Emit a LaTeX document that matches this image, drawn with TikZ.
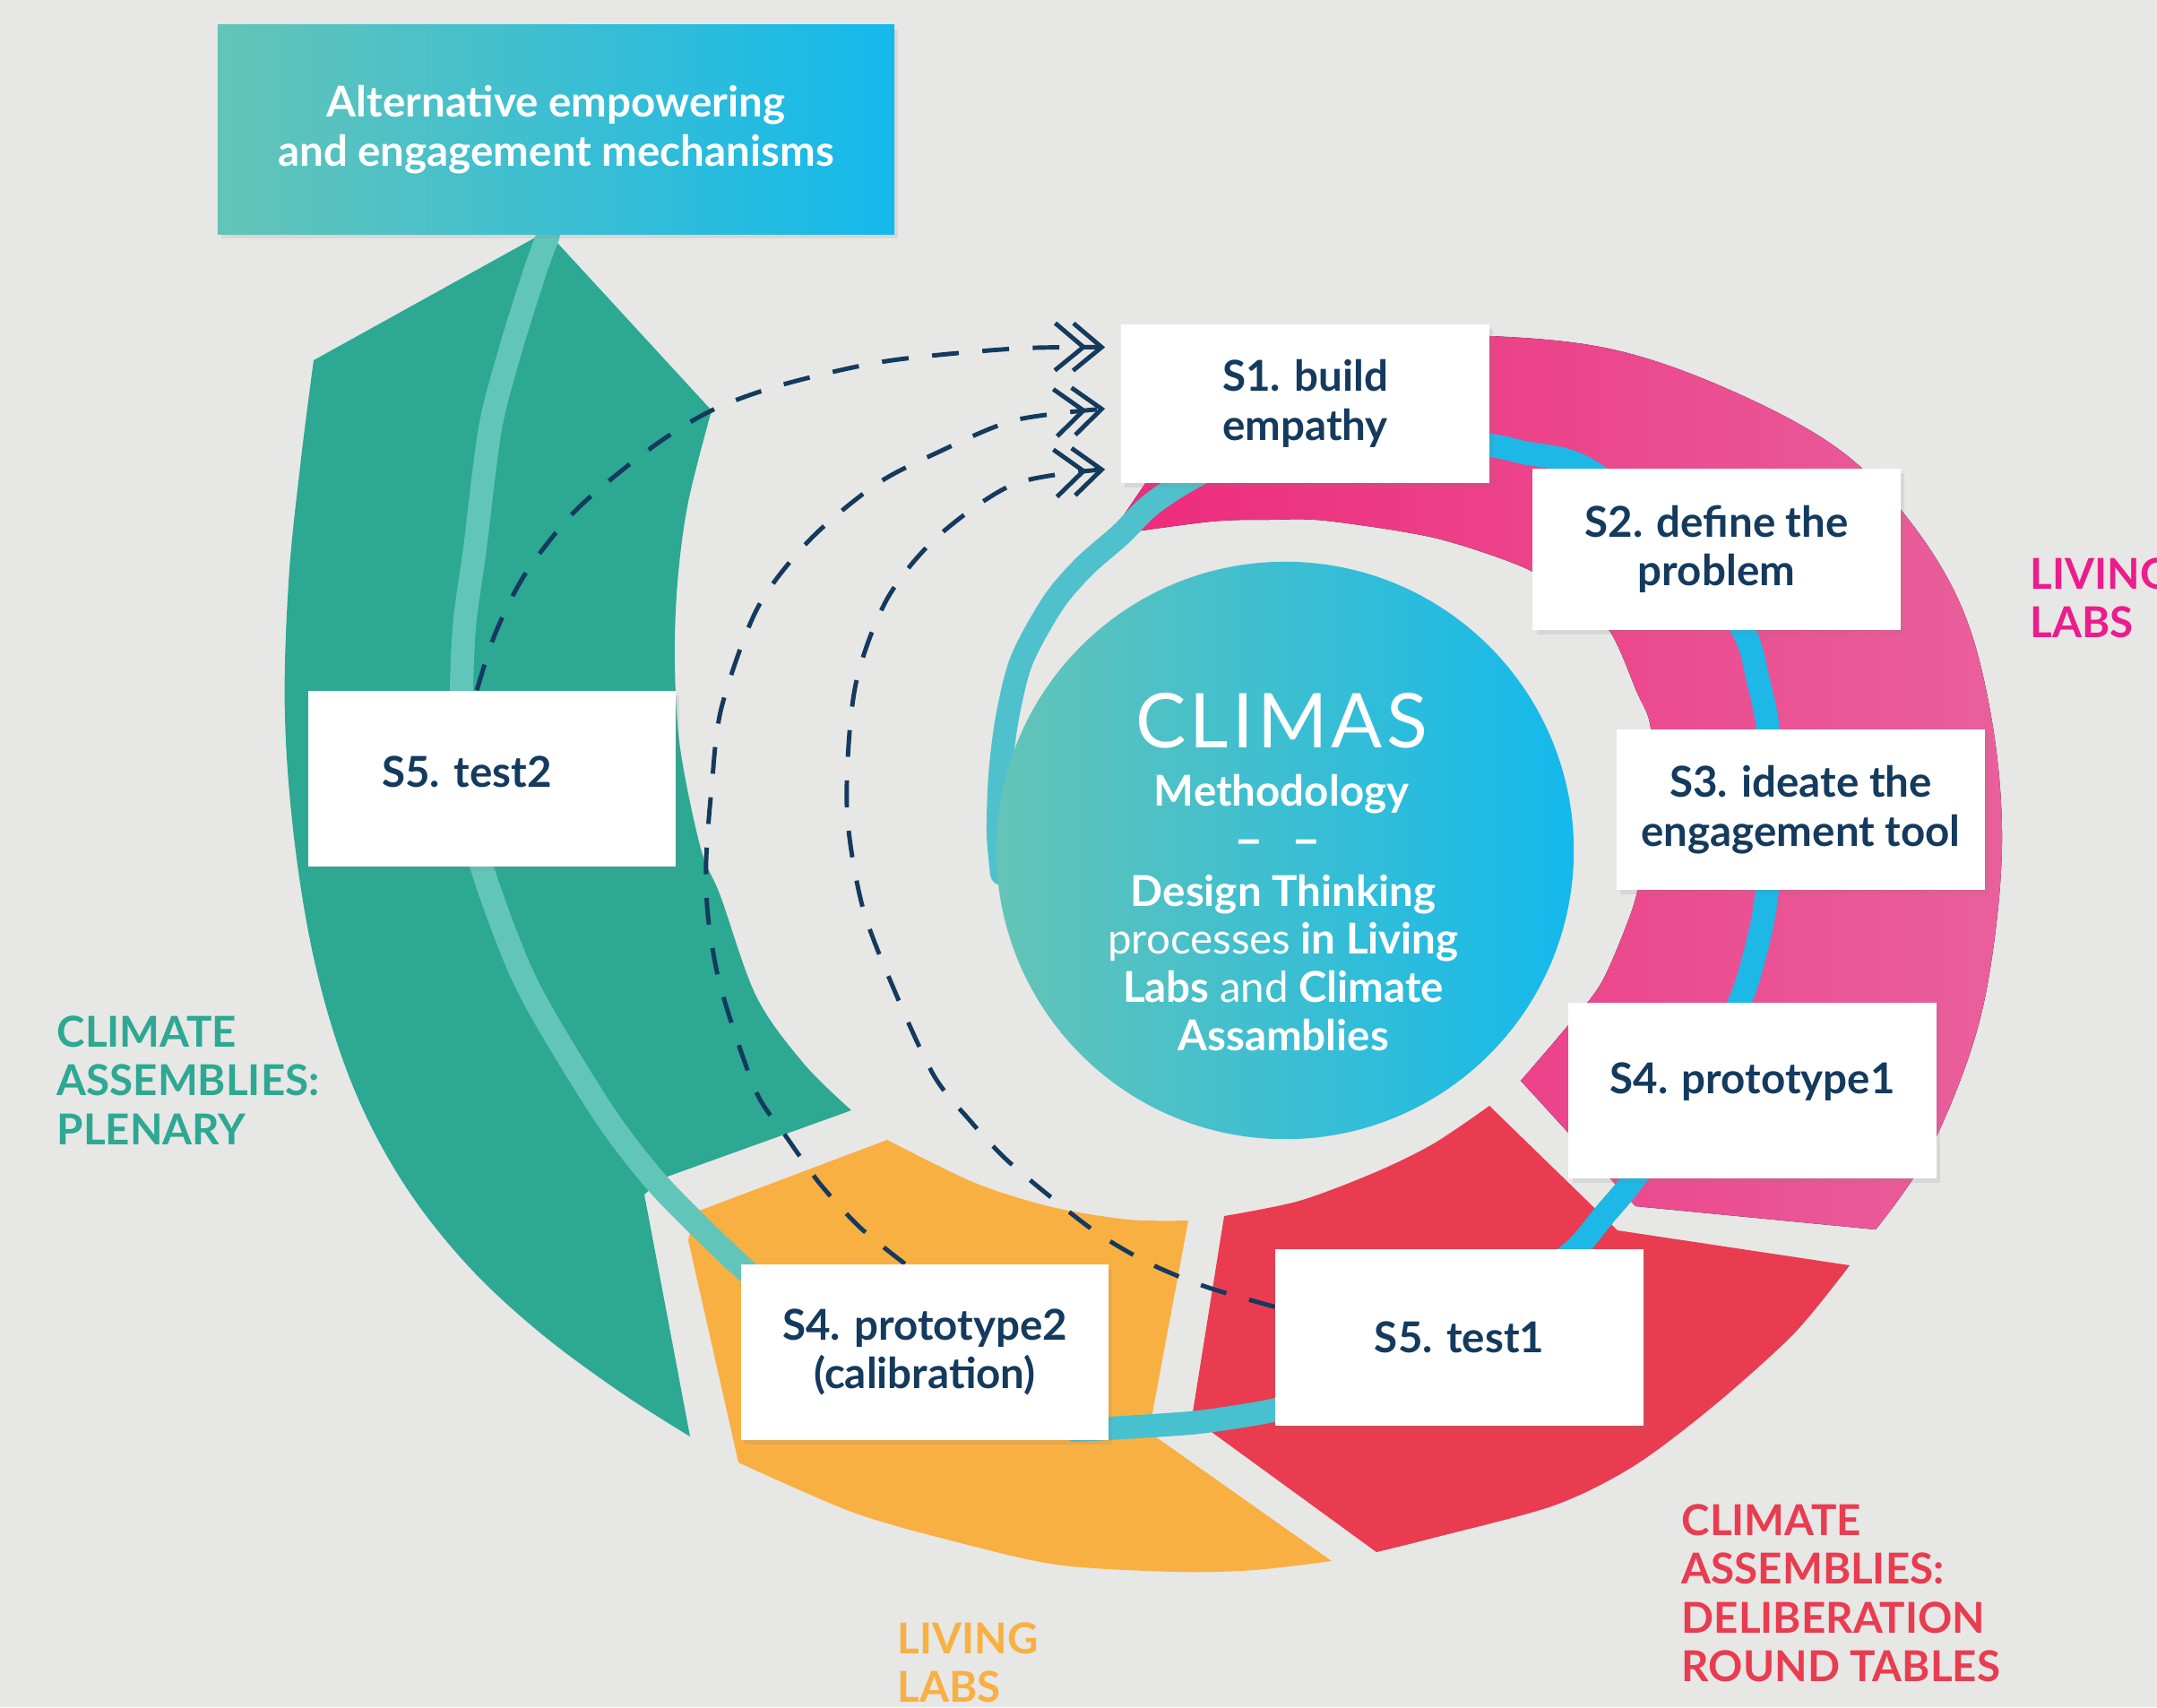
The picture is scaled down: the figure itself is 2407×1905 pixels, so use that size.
\documentclass[tikz,border=0pt]{standalone}
\usepackage{fontspec}
\setmainfont{Lato}
\newfontfamily\climasfont{Lato}[LetterSpace=5]
\usetikzlibrary{arrows.meta,shadows,calc}
\pgfdeclarelayer{back}
\pgfsetlayers{back,main}
\definecolor{bgc}{HTML}{E7E7E5}
\definecolor{cgreen}{HTML}{2CA893}
\definecolor{cteal}{HTML}{62C5B9}
\definecolor{corange}{HTML}{F9B043}
\definecolor{cred}{HTML}{E93C50}
\definecolor{pinkL}{HTML}{EE2A7B}
\definecolor{pinkR}{HTML}{E9609C}
\definecolor{cmag}{HTML}{EC1C8C}
\definecolor{navy}{HTML}{143A5E}
\definecolor{gradL}{HTML}{64C4B7}
\definecolor{gradR}{HTML}{14B9EC}
\definecolor{ringmid}{HTML}{47C1CF}
\definecolor{ringblue}{HTML}{1DB8E6}
\definecolor{ringtop}{HTML}{4FC1CC}
\begin{document}
\begin{tikzpicture}[x=0.01cm,y=-0.01cm,
  stepbox/.style={fill=white, inner sep=0pt, align=center, text=navy,
     font=\bfseries\fontsize{13.5}{15.5}\selectfont, minimum width=4.1cm, minimum height=1.96cm,
     drop shadow={shadow xshift=1.2pt, shadow yshift=-1.5pt, opacity=0.15}},
  band/.style={line width=0.26cm, line cap=round},
  dashconn/.style={navy, line width=1.4pt, dash pattern=on 8.5pt off 7.5pt,
     -{Straight Barb[length=9pt,width=15pt,line width=1.4pt,sep=-5pt]Straight Barb[length=9pt,width=15pt,line width=1.4pt]}},
  lbl/.style={anchor=north west, inner sep=0pt, align=left, font=\bfseries\fontsize{13.5}{15.5}\selectfont},
  ctext/.style={text=white, inner sep=0pt, align=center}]
\useasboundingbox (0,0) rectangle (2407,1905);

% ---------- boxes (main layer) ----------
\node[stepbox, minimum width=7.55cm, minimum height=2.33cm, left color=gradL, right color=gradR, text=white] (alt) at (620.5,144.5) {Alternative empowering\\and engagement mechanisms};
\node[stepbox, minimum width=4.11cm, minimum height=1.77cm] (s1) at (1456.5,450.5) {S1. build\\empathy};
\node[stepbox, minimum height=1.8cm] (s2) at (1915.5,613) {S2. define the\\problem};
\node[stepbox, minimum width=4.11cm, minimum height=1.79cm] (s3) at (2009.5,903.5) {S3. ideate the\\engagement tool};
\node[stepbox, minimum height=1.95cm] (s4a) at (1955.5,1217) {\raisebox{-1.1pt}[0pt][0pt]{S4. prototype1}};
\node[stepbox] (s5a) at (1628.5,1492.5) {S5. test1};
\node[stepbox] (s4b) at (1032,1509) {S4. prototype2\\(calibration)};
\node[stepbox] (s5b) at (549,869) {\raisebox{-2.6pt}[0pt][0pt]{S5. test2}\hspace*{16pt}};

% ---------- centre texts ----------
\node[ctext, anchor=base, font=\climasfont\fontsize{24}{28}\selectfont] (tclimas) at (1430,834) {CLIMAS};
\node[ctext, anchor=base, font=\bfseries\fontsize{13.5}{15.5}\selectfont] (tmeth) at (1430,899) {Methodology};
\node[ctext, anchor=base, font=\bfseries\fontsize{16}{18}\selectfont] (tdash) at (1426,956) {\textendash\hspace{9pt}\textendash};
\node[ctext, anchor=north, font=\bfseries\fontsize{13.5}{15.3}\selectfont] (tdesc) at (1432,975)
  {Design Thinking\\{\mdseries processes} in Living\\Labs {\mdseries and} Climate\\Assamblies};

% ---------- side labels ----------
\node[lbl, text=cgreen] (lgreen) at (63,1133) {CLIMATE\\ASSEMBLIES:\\PLENARY};
\node[lbl, text=cred] (lred) at (1876,1678) {CLIMATE\\ASSEMBLIES:\\DELIBERATION\\ROUND TABLES};
\node[lbl, text=corange] (lorange) at (1001,1810) {LIVING\\LABS};
\node[lbl, text=cmag] (lmag) at (2265,622) {LIVING\\LABS};

% ---------- connector end points ----------
\coordinate (d1s) at ($(s5b.north west)!0.459!(s5b.north east)$);
\coordinate (d1e) at ($(s1.north west)!0.147!(s1.south west)+(-17,0)$);
\coordinate (d2s) at ($(s4b.north west)!0.446!(s4b.north east)$);
\coordinate (d2e) at ($(s1.north west)!0.531!(s1.south west)+(-17,0)$);
\coordinate (d3s) at ($(s5a.north west)!0.327!(s5a.south west)$);
\coordinate (d3e) at ($(s1.north west)!0.91!(s1.south west)+(-17,0)$);

\begin{pgfonlayer}{back}
\fill[bgc] (0,0) rectangle (2407,1905);

% green band
\fill[cgreen] (350,402) -- (610,258) -- (794,458)
 -- plot[smooth,tension=0.55] coordinates {(794,458) (768,560) (756,650) (753,740) (759,835) (782,947) (804,1000) (844,1112) (897,1187) (950,1239)}
 -- (739,1315) -- (719,1333) -- (770,1603)
 -- plot[smooth,tension=0.6] coordinates {(770,1603) (690,1552) (600,1485) (520,1410) (450,1320) (395,1215) (355,1090) (330,950) (318,800) (322,650) (335,520) (350,402)}
 -- cycle;

% orange band
\fill[corange] (775,1353) -- (990,1272)
 -- plot[smooth] coordinates {(990,1272) (1088,1320) (1174,1347) (1260,1361) (1326,1362)}
 -- (1282,1598) -- (1486,1742)
 -- plot[smooth] coordinates {(1486,1742) (1400,1752) (1312,1754) (1179,1746) (1057,1718) (950,1687) (824,1632)}
 -- (768,1384) -- cycle;

% red band
\fill[cred] (1366,1357)
 -- plot[smooth] coordinates {(1366,1357) (1450,1340) (1535,1308) (1600,1276) (1662,1234)}
 -- (1805,1373) -- (2064,1412)
 -- plot[smooth] coordinates {(2064,1412) (2002,1488) (1912,1569) (1823,1636) (1734,1680) (1600,1716) (1536,1732)}
 -- (1330,1582) -- cycle;

% pink band
\fill[left color=pinkL, right color=pinkR] (1239,597) -- (1281,535)
 -- plot[smooth,tension=0.6] coordinates {(1281,535) (1330,470) (1420,405) (1540,378) (1663,375) (1800,390) (1930,435) (2050,500) (2130,580) (2190,680) (2222,800) (2234,930) (2224,1060) (2200,1170) (2150,1290) (2093,1372)}
 -- (1825,1346) -- (1697,1206)
 -- plot[smooth] coordinates {(1697,1206) (1745,1150) (1785,1100) (1812,1040) (1828,990) (1840,900) (1842,813) (1826,771) (1796,704) (1750,665) (1700,633) (1600,600) (1479,581) (1415,580) (1351,582) (1239,597)}
 -- cycle;

% spiral ring
\draw[band, cteal] plot[smooth] coordinates {(612,262) (598,300) (570,389) (547,478) (530,612) (518,701) (515,800) (522,900) (540,975) (575,1070) (607,1134) (676,1246) (735,1322) (815,1402) (870,1450)};
\draw[band, ringmid] plot[smooth] coordinates {(1200,1596) (1237,1594) (1300,1590) (1346,1586) (1424,1573) (1470,1555)};
\draw[band, ringblue] plot[smooth] coordinates {(1700,1440) (1758,1394) (1790,1356) (1823,1316) (1890,1220) (1941,1119) (1962,1050) (1972,993) (1978,900) (1973,814) (1962,760) (1945,703) (1880,610) (1770,523) (1700,505) (1662,497) (1600,495)};
\draw[band, ringtop] plot[smooth] coordinates {(1370,512) (1320,539) (1282,565) (1250,597) (1210,632) (1175,673) (1140,737) (1124,801) (1116,865) (1114,930) (1118,975)};

% centre disc
\node[circle, minimum size=6.44cm, inner sep=0pt, left color=gradL, right color=gradR] (core) at (1434,949) {};

% dashed connectors
\draw[dashconn] plot[smooth] coordinates {(d1s) (553,706) (587,639) (644,568) (725,501) (794,458) (874,429) (989,403) (1132,389) (d1e)};
\draw[dashconn] plot[smooth] coordinates {(d2s) (960,1370) (915,1321) (877,1268) (846,1223) (821,1156) (801,1089) (790,1022) (788,960) (794,880) (805,790) (845,679) (903,603) (977,541) (1046,505) (1132,469) (d2e)};
\draw[dashconn] plot[smooth] coordinates {(d3s) (1346,1436) (1283,1410) (1226,1377) (1174,1337) (1122,1293) (1082,1250) (1042,1200) (998,1105) (962,1010) (945,900) (954,768) (989,670) (1046,599) (1132,540) (d3e)};
\end{pgfonlayer}
\end{tikzpicture}
\end{document}
